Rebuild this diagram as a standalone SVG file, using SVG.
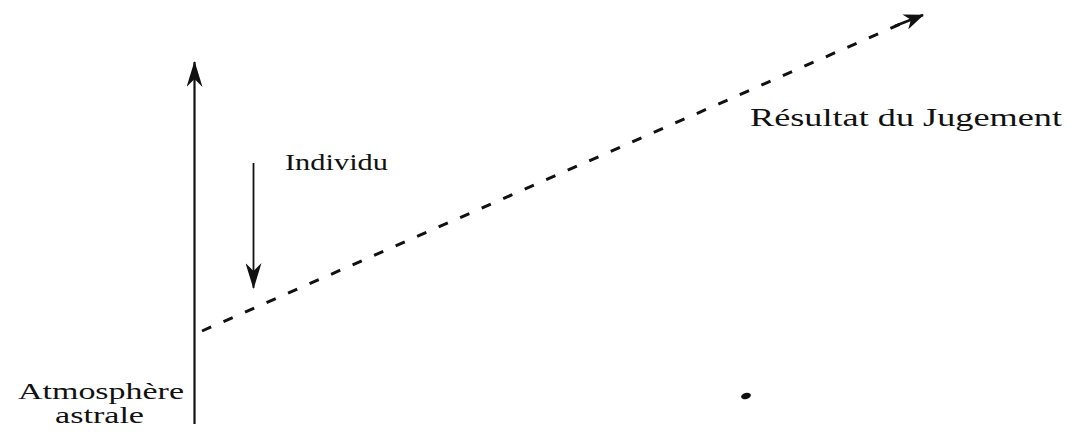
<svg xmlns="http://www.w3.org/2000/svg" width="1069" height="433" viewBox="0 0 1069 433">
<style>
.lbl{font-family:"Liberation Serif","DejaVu Serif",serif;fill:#111;}
.ln{stroke:#111;fill:none;}
</style>
<defs>
<marker id="ah" viewBox="0 0 20 16" refX="19" refY="8" markerWidth="20" markerHeight="16" markerUnits="userSpaceOnUse" orient="auto">
<path d="M0,0 L20,8 L0,16 L6,8 Z" fill="#111"/>
</marker>
<marker id="ah2" viewBox="0 0 26 16" refX="25" refY="8" markerWidth="26" markerHeight="16" markerUnits="userSpaceOnUse" orient="auto">
<path d="M0,0 L26,8 L0,16 L8,8 Z" fill="#111"/>
</marker>
</defs>
<g id="connectors">
<line class="ln" x1="194.5" y1="424" x2="194.5" y2="62" stroke-width="2.2" marker-end="url(#ah2)"/>
<line class="ln" x1="253.5" y1="163" x2="253.5" y2="288" stroke-width="1.8" marker-end="url(#ah2)"/>
<line class="ln" x1="202" y1="331" x2="905" y2="22" stroke-width="3" stroke-dasharray="10 13.5"/>
<line class="ln" x1="895" y1="26" x2="923" y2="15" stroke-width="2.5" marker-end="url(#ah)"/>
</g>
<g id="individu"><text class="lbl" x="285" y="170" font-size="23" textLength="103" lengthAdjust="spacingAndGlyphs">Individu</text></g>
<g id="resultat"><text class="lbl" x="750" y="126" font-size="25" textLength="312" lengthAdjust="spacingAndGlyphs">Résultat du Jugement</text></g>
<g id="atmosphere">
<text class="lbl" x="18" y="399" font-size="24" textLength="166" lengthAdjust="spacingAndGlyphs">Atmosphère</text>
<text class="lbl" x="55" y="423" font-size="24" textLength="89" lengthAdjust="spacingAndGlyphs">astrale</text>
</g>
<ellipse cx="746" cy="396" rx="5" ry="3" fill="#111" transform="rotate(-15 746 396)"/>
</svg>
